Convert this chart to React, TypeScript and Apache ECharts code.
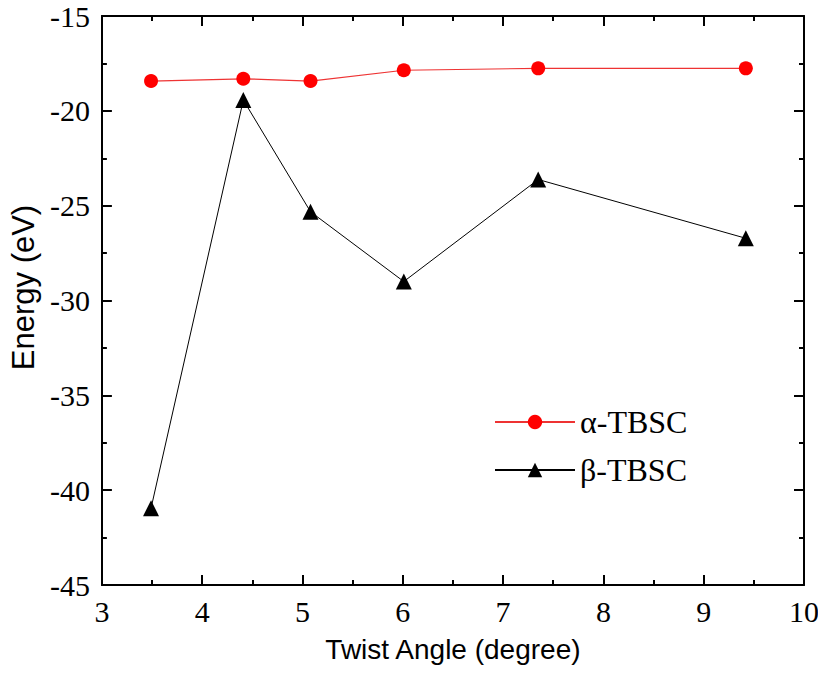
import React, { useEffect, useRef } from "react";
import * as echarts from "echarts";

const twistAngles = [3.49, 4.41, 5.08, 6.01, 7.35, 9.42];
const alphaEnergy = [-18.43, -18.31, -18.43, -17.86, -17.76, -17.76];
const betaEnergy = [-40.95, -19.43, -25.32, -29.0, -23.62, -26.72];
const seriesNames = ["α-TBSC", "β-TBSC"];

const serif = "'Liberation Serif', 'Times New Roman', serif";
const sans = "'Liberation Sans', Arial, sans-serif";

export default function App() {
  const ref = useRef<HTMLDivElement>(null);
  useEffect(() => {
    if (!ref.current) return;
    const chart = echarts.init(ref.current, undefined, { renderer: "svg" });
    const axisLine = { show: true, lineStyle: { color: "#000", width: 2 } };
    const axisTick = { show: true, inside: true, length: 10, lineStyle: { color: "#000", width: 2 } };
    const minorTick = { show: true, splitNumber: 2, length: 5, lineStyle: { color: "#000", width: 2 } };
    chart.setOption({
      animation: false,
      backgroundColor: "#fff",
      grid: { left: 100, top: 16, right: 22, bottom: 90, containLabel: false },
      legend: {
        left: 489,
        top: 401,
        orient: "vertical",
        itemWidth: 80,
        itemHeight: 18,
        itemGap: 16,
        textStyle: { fontFamily: serif, fontSize: 32, color: "#000" },
        data: seriesNames,
      },
      xAxis: [
        {
          type: "value",
          min: 3,
          max: 10,
          interval: 1,
          position: "bottom",
          axisLine,
          axisTick,
          minorTick,
          splitLine: { show: false },
          axisLabel: { fontFamily: serif, fontSize: 30, color: "#000", margin: 11 },
          name: "Twist Angle (degree)",
          nameLocation: "middle",
          nameGap: 50,
          nameTextStyle: { fontFamily: sans, fontSize: 28, color: "#000" },
        },
        {
          type: "value",
          min: 3,
          max: 10,
          interval: 1,
          position: "top",
          axisLine,
          axisTick,
          minorTick,
          splitLine: { show: false },
          axisLabel: { show: false },
        },
      ],
      yAxis: [
        {
          type: "value",
          min: -45,
          max: -15,
          interval: 5,
          position: "left",
          axisLine,
          axisTick,
          minorTick,
          splitLine: { show: false },
          axisLabel: { fontFamily: serif, fontSize: 30, color: "#000", margin: 12 },
          name: "Energy (eV)",
          nameLocation: "middle",
          nameGap: 58,
          nameTextStyle: { fontFamily: sans, fontSize: 31, color: "#000", padding: [0, 0, 0, 26] },
        },
        {
          type: "value",
          min: -45,
          max: -15,
          interval: 5,
          position: "right",
          axisLine,
          axisTick,
          minorTick,
          splitLine: { show: false },
          axisLabel: { show: false },
        },
      ],
      series: [
        {
          name: seriesNames[0],
          type: "line",
          data: twistAngles.map((x, i) => [x, alphaEnergy[i]]),
          symbol: "circle",
          symbolSize: 14,
          lineStyle: { color: "#e33", width: 1.2 },
          itemStyle: { color: "#f00" },
        },
        {
          name: seriesNames[1],
          type: "line",
          data: twistAngles.map((x, i) => [x, betaEnergy[i]]),
          symbol: "triangle",
          symbolSize: 16,
          lineStyle: { color: "#000", width: 1 },
          itemStyle: { color: "#000" },
        },
      ],
    });
    return () => chart.dispose();
  }, []);
  return <div ref={ref} style={{ width: 826, height: 675, margin: -8 }} />;
}
